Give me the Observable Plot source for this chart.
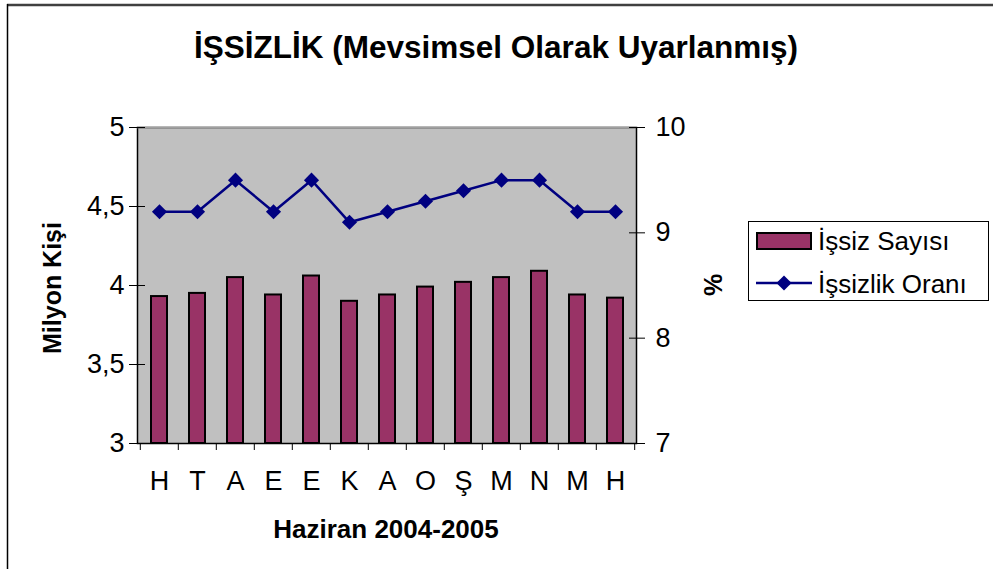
<!DOCTYPE html>
<html>
<head>
<meta charset="utf-8">
<script src="https://cdn.jsdelivr.net/npm/d3@7"></script>
<script src="https://cdn.jsdelivr.net/npm/@observablehq/plot@0.6"></script>
<style>
  html, body { margin: 0; padding: 0; background: #fff; }
  #chart svg { display: block; }
</style>
</head>
<body>
<div id="chart"></div>
<script>
// ---- data ----
const months = ["H", "T", "A", "E", "E", "K", "A", "O", "Ş", "M", "N", "M", "H"];
const issizSayisi = [3.93, 3.95, 4.05, 3.94, 4.06, 3.90, 3.94, 3.99, 4.02, 4.05, 4.09, 3.94, 3.92]; // milyon kişi
const issizlikOrani = [9.2, 9.2, 9.5, 9.2, 9.5, 9.1, 9.2, 9.3, 9.4, 9.5, 9.5, 9.2, 9.2]; // %
const leftTicks = [3, 3.5, 4, 4.5, 5];
const rightTicks = [7, 8, 9, 10];
const titleText = "İŞSİZLİK (Mevsimsel Olarak Uyarlanmış)";
const yLabel = "Milyon Kişi";
const y2Label = "%";
const xLabel = "Haziran 2004-2005";
const seriesNames = ["İşsiz Sayısı", "İşsizlik Oranı"];

// ---- layout ----
const W = 993, H = 569;
const mL = 137, mR = 357, mT = 127, mB = 126;
const FONT = "'Liberation Sans', Arial, Helvetica, sans-serif";
const barColor = "#993366", lineColor = "#000080";
const TICK_FS = 27;

// right axis (7..10) mapped onto left axis (3..5)
const toLeft = v => 3 + (v - 7) * 2 / 3;
const fromLeft = v => 7 + (v - 3) * 3 / 2;

const idx = months.map((_, i) => i);
const step = (W - mL - mR) / months.length;

const chart = Plot.plot({
  width: W, height: H,
  marginLeft: mL, marginRight: mR, marginTop: mT, marginBottom: mB,
  style: { fontFamily: FONT, background: "white", color: "black", overflow: "visible" },
  x: { type: "band", domain: idx, paddingInner: 0.58, paddingOuter: 0.29, axis: null },
  y: { domain: [3, 5], axis: null },
  marks: [
    Plot.frame({ fill: "#c0c0c0", stroke: "#000", strokeWidth: 1.5 }),
    Plot.ruleY([5], { stroke: "#a0a0a0", strokeWidth: 1.5 }),
    Plot.barY(idx, { x: i => i, y1: 3, y2: i => issizSayisi[i], fill: barColor, stroke: "#000", strokeWidth: 2 }),
    Plot.line(idx, { x: i => i, y: i => toLeft(issizlikOrani[i]), stroke: lineColor, strokeWidth: 2.5 }),
    Plot.dot(idx, { x: i => i, y: i => toLeft(issizlikOrani[i]), symbol: "diamond2", r: 6.8, fill: lineColor, stroke: "none" }),
    // left axis
    Plot.axisY({ anchor: "left", ticks: leftTicks, tickSize: 0, tickPadding: 13, fontSize: TICK_FS,
      tickFormat: d => String(d).replace(".", ",") }),
    Plot.axisY({ anchor: "left", ticks: leftTicks, tickSize: 16, dx: 8, tickFormat: () => "", stroke: "#000" }),
    // right axis
    Plot.axisY({ anchor: "right", ticks: rightTicks.map(toLeft), tickSize: 0, tickPadding: 19, fontSize: TICK_FS,
      tickFormat: d => String(Math.round(fromLeft(d))) }),
    Plot.axisY({ anchor: "right", ticks: rightTicks.map(toLeft), tickSize: 16, dx: -8, tickFormat: () => "", stroke: "#000" }),
    // x axis
    Plot.axisX({ ticks: idx, tickSize: 0, tickPadding: 27, fontSize: TICK_FS, tickFormat: i => months[i] }),
    Plot.axisX({ ticks: idx, tickSize: 7, dx: -step / 2, tickFormat: () => "", stroke: "#000" }),
    Plot.axisX({ ticks: [idx[idx.length - 1]], tickSize: 7, dx: step / 2, tickFormat: () => "", stroke: "#000" })
  ]
});

document.getElementById("chart").appendChild(chart);

// ---- annotations: title, axis titles, legend, border ----
const svg = d3.select(chart);
const g = svg.append("g").attr("font-family", FONT).attr("fill", "black").attr("text-anchor", "start");

// outer chart border (top and left visible)
g.append("line").attr("x1", 7).attr("x2", W).attr("y1", 5).attr("y2", 5).attr("stroke", "#404040").attr("stroke-width", 2.5);
g.append("line").attr("x1", 7.5).attr("x2", 7.5).attr("y1", 4).attr("y2", H).attr("stroke", "#000").attr("stroke-width", 1.5);

g.append("text").attr("x", 496).attr("y", 58).attr("text-anchor", "middle")
  .attr("font-size", 31.5).attr("font-weight", "bold").text(titleText);

g.append("text").attr("transform", `translate(61,288) rotate(-90)`).attr("text-anchor", "middle")
  .attr("font-size", 25).attr("font-weight", "bold").text(yLabel);

g.append("text").attr("transform", `translate(722,285) rotate(-90)`).attr("text-anchor", "middle")
  .attr("font-size", 25).attr("font-weight", "bold").text(y2Label);

g.append("text").attr("x", 386).attr("y", 538).attr("text-anchor", "middle")
  .attr("font-size", 26).attr("font-weight", "bold").text(xLabel);

// legend
const lg = g.append("g");
lg.append("rect").attr("x", 748.5).attr("y", 221.5).attr("width", 240).attr("height", 79)
  .attr("fill", "white").attr("stroke", "#000").attr("stroke-width", 1);
lg.append("rect").attr("x", 757).attr("y", 233).attr("width", 54).attr("height", 16)
  .attr("fill", barColor).attr("stroke", "#000").attr("stroke-width", 2);
lg.append("text").attr("x", 818).attr("y", 250).attr("font-size", 26).text(seriesNames[0]);
lg.append("line").attr("x1", 756).attr("x2", 812).attr("y1", 283).attr("y2", 283)
  .attr("stroke", lineColor).attr("stroke-width", 2.5);
lg.append("path").attr("d", d3.symbol(d3.symbolDiamond2, Math.PI * 6.8 * 6.8)()).attr("transform", "translate(784,283)")
  .attr("fill", lineColor);
lg.append("text").attr("x", 818).attr("y", 293).attr("font-size", 26).text(seriesNames[1]);
</script>
</body>
</html>
